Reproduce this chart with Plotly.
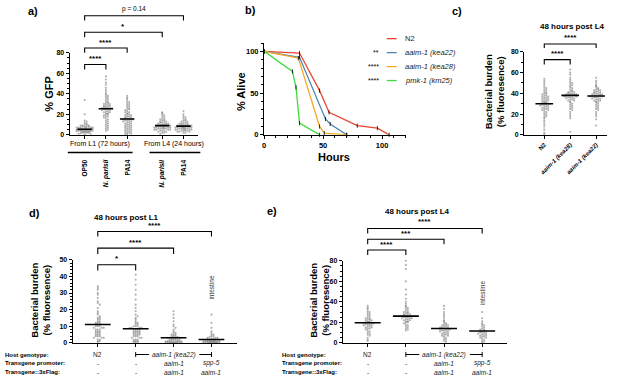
import plotly.graph_objects as go

FONT = "Liberation Sans, Arial, sans-serif"
W, H = 617, 381

# ---------------- DATA ----------------
# a) % GFP
a_categories = ["OP50", "<i>N. parisii</i>", "PA14", "<i>N. parisii</i>", "PA14"]
a_op50_l1 = [34, 20, 14, 13, 12, 11, 10, 10, 9, 9, 9, 8, 8, 8, 8, 7, 7, 7, 7, 7, 7, 6, 6, 6, 6, 6, 6, 6, 6,
             5, 5, 5, 5, 5, 5, 5, 5, 5, 4.5, 4, 4, 4, 4, 4, 4, 4, 3.5, 3, 3, 3, 3, 3, 2.5, 2, 2, 2, 1.5, 1, 1, 0.5]
a_npar_l1 = [57, 54, 51, 49, 46, 44, 42, 40, 39, 38, 37, 36, 35, 34, 33, 32, 31, 31, 30, 30, 29, 29, 28, 28,
             27, 27, 27, 26, 26, 26, 25, 25, 25, 24, 24, 23, 23, 22, 22, 21, 21, 20, 20, 19, 18, 18, 17, 16,
             15, 14, 13, 12, 11, 10, 9, 8, 7, 6, 5, 4]
a_pa14_l1 = [38, 36, 35, 33, 32, 31, 30, 29, 28, 27, 26, 25, 25, 24, 23, 22, 22, 21, 20, 20, 19, 19, 18, 18,
             17, 17, 16, 16, 16, 15, 15, 15, 14, 14, 14, 13, 13, 12, 12, 11, 11, 10, 10, 9, 9, 8, 8, 7, 7, 6,
             6, 5, 5, 4, 4, 3, 3, 2, 2, 1, 1, 0.5]
a_npar_l4 = [22, 21, 20, 19, 18, 17, 16, 15, 15, 14, 14, 13, 13, 12, 12, 12, 11, 11, 11, 10, 10, 10, 10, 9, 9,
             9, 9, 8, 8, 8, 8, 8, 7, 7, 7, 7, 7, 6, 6, 6, 6, 6, 5, 5, 5, 5, 4, 4, 4, 3, 3, 2, 2, 1]
a_pa14_l4 = [23, 20, 18, 17, 16, 15, 14, 14, 13, 13, 12, 12, 11, 11, 11, 10, 10, 10, 10, 9, 9, 9, 9, 8, 8, 8,
             8, 8, 7, 7, 7, 7, 7, 7, 6, 6, 6, 6, 6, 5, 5, 5, 5, 5, 4, 4, 4, 4, 3, 3, 3, 2, 2]
a_means = [5.5, 25.5, 15.5, 9, 8.5]

# b) survival
b_names = ["N2", "<i>aaim-1 (kea22)</i>", "<i>aaim-1 (kea28)</i>", "<i>pmk-1 (km25)</i>"]
b_stars = ["", "**", "****", "****"]
b_hours = [[0, 30, 47, 55, 79, 96, 106],
           [0, 30, 52, 56, 70],
           [0, 29, 47, 51, 70],
           [0, 24, 27, 30, 47]]
b_alive = [[100, 98, 53, 27, 11, 8, 0],
           [100, 93, 19, 13, 0],
           [100, 92, 10, 2, 0],
           [100, 76, 57, 14, 0]]
b_colors = ["#e8462f", "#4e86b3", "#f7a724", "#3cdc3c"]

# c) 48 h post L4
c_categories = ["N2", "<i>aaim-1 (kea28)</i>", "<i>aaim-1 (kea22)</i>"]
c_n2 = [54, 52, 50, 48, 46, 45, 44, 43, 42, 41, 40, 40, 39, 38, 38, 37, 37, 36, 36, 35, 35, 34, 34, 33, 33,
        32, 32, 31, 31, 31, 30, 30, 30, 29, 29, 29, 28, 28, 27, 27, 26, 26, 25, 25, 24, 24, 23, 22, 21, 20,
        19, 18, 17, 16, 14, 12, 10, 8, 5, 2, 0.5]
c_kea28 = [63, 60, 58, 55, 53, 51, 50, 49, 48, 47, 46, 45, 44, 43, 42, 42, 41, 41, 40, 40, 40, 39, 39, 39,
           38, 38, 38, 38, 37, 37, 37, 36, 36, 36, 35, 35, 34, 34, 33, 33, 32, 31, 30, 29, 28, 27, 26, 25,
           24, 22, 20, 18, 16, 3]
c_kea22 = [55, 52, 50, 48, 47, 46, 45, 44, 44, 43, 43, 42, 42, 41, 41, 40, 40, 40, 39, 39, 39, 38, 38, 38,
           38, 37, 37, 37, 36, 36, 36, 35, 35, 34, 34, 33, 33, 32, 32, 31, 30, 29, 28, 27, 26, 25, 24, 22,
           20, 18, 15, 9]
c_means = [30, 38, 37.5]

# d) 48 h post L1
d_n2 = [34, 33, 32, 30, 29, 27, 25, 24, 23, 21, 19, 18, 17, 16, 15, 15, 14, 14, 13, 13, 12, 12, 12, 11, 11,
        11, 10, 10, 10, 9, 9, 9, 8, 8, 8, 7, 7, 7, 6, 6, 6, 5, 5, 5, 4, 4, 4, 3, 3, 3, 2, 2, 1, 1, 0.5]
d_mut = [41, 38, 35, 32, 29, 26, 23, 21, 19, 17, 16, 15, 14, 13, 12, 12, 11, 11, 10, 10, 10, 9, 9, 9, 9, 8,
         8, 8, 8, 7, 7, 7, 7, 6, 6, 6, 6, 5, 5, 5, 5, 4, 4, 4, 3, 3, 3, 2, 2, 2, 1, 1, 1, 0.5, 0.5, 0.3]
d_resc = [19, 17, 15, 13, 11, 10, 9, 8, 7, 6, 6, 5, 5, 5, 4, 4, 4, 3.5, 3, 3, 3, 3, 2.5, 2.5, 2, 2, 2, 2,
          1.5, 1.5, 1.5, 1, 1, 1, 1, 0.8, 0.8, 0.5, 0.5, 0.5, 0.5, 0.3, 0.3, 0.3, 0.2, 0.2, 0.1, 0.1, 0.1, 0.1]
d_int = [17, 12, 9, 7, 6, 5, 5, 4, 4, 3.5, 3, 3, 3, 2.5, 2.5, 2, 2, 2, 2, 1.5, 1.5, 1.5, 1.5, 1, 1, 1, 1, 1,
         0.8, 0.8, 0.8, 0.5, 0.5, 0.5, 0.5, 0.5, 0.3, 0.3, 0.3, 0.3, 0.2, 0.2, 0.1, 0.1, 0.1]
d_means = [11, 8.5, 3, 2]

# e) 48 h post L4
e_n2 = [36, 34, 33, 31, 30, 29, 28, 27, 26, 25, 24, 24, 23, 23, 22, 22, 21, 21, 20, 20, 20, 19, 19, 19, 18,
        18, 18, 17, 17, 16, 16, 15, 15, 14, 14, 13, 12, 11, 10, 9, 8, 7, 5, 3, 2]
e_mut = [80, 76, 72, 60, 52, 47, 43, 40, 38, 36, 35, 34, 33, 32, 31, 30, 30, 29, 29, 28, 28, 27, 27, 27, 26,
         26, 26, 25, 25, 25, 24, 24, 24, 23, 23, 22, 22, 21, 21, 20, 20, 19, 18, 17, 16, 15, 14, 13, 12]
e_resc = [36, 33, 30, 28, 26, 24, 22, 21, 20, 19, 18, 18, 17, 17, 16, 16, 15, 15, 15, 14, 14, 14, 13, 13, 13,
          12, 12, 12, 11, 11, 10, 10, 9, 9, 8, 8, 7, 7, 6, 5, 4, 3, 2, 1]
e_int = [30, 24, 21, 19, 18, 17, 16, 15, 14, 13, 13, 12, 12, 11, 11, 10, 10, 10, 9, 9, 8, 8, 7, 7, 6, 6, 5,
         5, 4, 3, 2, 1, 0.5]
e_means = [19.5, 26, 14, 11.5]

# genotype table (d, e)
row_labels = ["Host genotype:", "Transgene promoter:", "Transgene::3xFlag:"]
host_row = ["N2", "", "", ""]
promoter_row = ["-", "-", "<i>aaim-1</i>", "<i>spp-5</i>"]
flag_row = ["-", "-", "<i>aaim-1</i>", "<i>aaim-1</i>"]
mutant_label = "<i>aaim-1 (kea22)</i>"

# ---------------- HELPERS ----------------
def fx(p):
    return p / W


def fy(p):
    return 1 - p / H


def swarm_x(vals, center, ypx, xpx, step=2.0, half=8.0):
    slots = [0]
    k = 1
    while k * step <= half:
        slots += [k, -k]
        k += 1
    k = 0.5
    while k * step <= half:
        slots += [k, -k]
        k += 1
    counts = {}
    xs = []
    for v in vals:
        b = int(round(v * ypx / 2.0))
        c = counts.get(b, 0)
        counts[b] = c + 1
        xs.append(center + slots[c % len(slots)] * step / xpx)
    return xs


fig = go.Figure()
annotations = []
shapes = []

axis_common = dict(showline=True, linecolor="black", linewidth=1.3, ticks="outside", tickcolor="black",
                   tickwidth=1, ticklen=3, showgrid=False, zeroline=False, fixedrange=True,
                   tickfont=dict(size=7, family=FONT, color="black", weight="bold"))

panels = {
    "a": dict(xa="x", ya="y", xd=(68, 197), yd=(50, 134), xr=(-0.70, 5.35), yr=(0, 80), xpu=21.3),
    "b": dict(xa="x2", ya="y2", xd=(263, 405), yd=(40, 134), xr=(0, 120), yr=(0, 110), xpu=None),
    "c": dict(xa="x3", ya="y3", xd=(524, 607), yd=(49, 134), xr=(-0.77, 2.42), yr=(0, 80), xpu=26),
    "d": dict(xa="x4", ya="y4", xd=(71, 236), yd=(262, 347), xr=(-0.66, 3.68), yr=(0, 50), xpu=38),
    "e": dict(xa="x5", ya="y5", xd=(342, 507), yd=(263, 347), xr=(-0.65, 3.66), yr=(0, 80), xpu=38.3),
}


def add_dots(panel, groups, positions, means):
    p = panels[panel]
    ypx = (p["yd"][1] - p["yd"][0]) / (p["yr"][1] - p["yr"][0])
    for vals, pos in zip(groups, positions):
        fig.add_trace(go.Scatter(
            x=swarm_x(vals, pos, ypx, p["xpu"]), y=vals, mode="markers",
            marker=dict(size=2.1, color="rgba(120,120,120,0.6)", line=dict(width=0)),
            xaxis=p["xa"], yaxis=p["ya"], hoverinfo="skip", cliponaxis=False))
    hw = 0.34
    mx, my = [], []
    for pos, m in zip(positions, means):
        mx += [pos - hw, pos + hw, None]
        my += [m, m, None]
    fig.add_trace(go.Scatter(x=mx, y=my, mode="lines", line=dict(color="black", width=1.6),
                             xaxis=p["xa"], yaxis=p["ya"], hoverinfo="skip"))


def bracket(panel, i, j, ybar, ydrop, label, ylab, size=8, bold=True):
    xr = panels[panel]["xa"]
    shapes.append(dict(type="path", xref=xr, yref="paper",
                       path=f"M {i},{fy(ydrop)} L {i},{fy(ybar)} L {j},{fy(ybar)} L {j},{fy(ydrop)}",
                       line=dict(color="black", width=1.1)))
    annotations.append(dict(x=(i + j) / 2, y=fy(ylab), xref=xr, yref="paper", text=label, showarrow=False,
                            xanchor="center", yanchor="middle",
                            font=dict(size=size, family=FONT, color="black",
                                      weight="bold" if bold else "normal")))


def text(x, y, s, size=7, bold=False, angle=0, xanchor="center", yanchor="middle", xref="paper", color="black"):
    annotations.append(dict(x=x if xref != "paper" else fx(x), y=fy(y), xref=xref, yref="paper", text=s,
                            showarrow=False, textangle=angle, xanchor=xanchor, yanchor=yanchor,
                            font=dict(size=size, family=FONT, color=color, weight="bold" if bold else "normal")))


# ---------------- AXES ----------------
layout_axes = {}
for key, p in panels.items():
    xname = "xaxis" if p["xa"] == "x" else "xaxis" + p["xa"][1:]
    yname = "yaxis" if p["ya"] == "y" else "yaxis" + p["ya"][1:]
    layout_axes[xname] = dict(axis_common, domain=[fx(p["xd"][0]), fx(p["xd"][1])], range=list(p["xr"]),
                              anchor=p["ya"])
    layout_axes[yname] = dict(axis_common, domain=[fy(p["yd"][1]), fy(p["yd"][0])], range=list(p["yr"]),
                              anchor=p["xa"])

minor_style = dict(ticklen=2, ticks="outside", tickcolor="black")
a_pos = [0, 1, 2, 3.65, 4.65]
layout_axes["xaxis"].update(tickvals=a_pos, showticklabels=False)
layout_axes["yaxis"].update(tickvals=[0, 20, 40, 60, 80], minor=dict(minor_style, dtick=5))
layout_axes["xaxis2"].update(tickvals=[0, 50, 100], minor=dict(minor_style, dtick=10),
                             tickfont=dict(size=7.5, family=FONT, color="black", weight="bold"))
layout_axes["yaxis2"].update(tickvals=[0, 50, 100], minor=dict(minor_style, dtick=10),
                             tickfont=dict(size=7.5, family=FONT, color="black", weight="bold"))
c_pos = [0, 1, 2]
layout_axes["xaxis3"].update(tickvals=c_pos, ticktext=c_categories, tickangle=-45,
                             tickfont=dict(size=6, family=FONT, color="black", weight="bold"))
layout_axes["yaxis3"].update(tickvals=[0, 20, 40, 60, 80], minor=dict(minor_style, dtick=10))
de_pos = [0, 1, 2, 3]
layout_axes["xaxis4"].update(tickvals=de_pos, showticklabels=False)
layout_axes["yaxis4"].update(tickvals=[0, 10, 20, 30, 40, 50], minor=dict(minor_style, dtick=2))
layout_axes["xaxis5"].update(tickvals=de_pos, showticklabels=False)
layout_axes["yaxis5"].update(tickvals=[0, 20, 40, 60, 80], minor=dict(minor_style, dtick=5))

# ---------------- TRACES ----------------
add_dots("a", [a_op50_l1, a_npar_l1, a_pa14_l1, a_npar_l4, a_pa14_l4], a_pos, a_means)
add_dots("c", [c_n2, c_kea28, c_kea22], c_pos, c_means)
add_dots("d", [d_n2, d_mut, d_resc, d_int], de_pos, d_means)
add_dots("e", [e_n2, e_mut, e_resc, e_int], de_pos, e_means)

for hrs, alive, col in zip(b_hours, b_alive, b_colors):
    fig.add_trace(go.Scatter(x=hrs, y=alive, mode="lines+markers",
                             line=dict(color=col, width=1.3),
                             marker=dict(symbol="line-ns", size=3, line=dict(color="black", width=0.8)),
                             xaxis="x2", yaxis="y2", hoverinfo="skip", cliponaxis=False))

# ---------------- ANNOTATIONS ----------------
for s, x, y in [("a)", 24, 7), ("b)", 242, 6), ("c)", 449, 7), ("d)", 25, 214), ("e)", 264, 212)]:
    text(x, y, s, size=11, bold=True, xanchor="left")

bracket("a", 0, 4.65, 12, 17, "p = 0.14", 5, size=6.5, bold=False)
bracket("a", 0, 3.65, 29, 34, "*", 23)
bracket("a", 0, 2, 45, 50, "****", 39)
bracket("a", 0, 1, 62, 67, "****", 56)
text(47, 92, "% GFP", size=11, bold=True, angle=-90)
text(98, 143, "From L1 (72 hours)", size=7)
text(173, 143, "From L4 (24 hours)", size=7)
shapes.append(dict(type="line", xref="paper", yref="paper", x0=fx(66), x1=fx(131), y0=fy(152), y1=fy(152),
                   line=dict(color="black", width=1.5)))
shapes.append(dict(type="line", xref="paper", yref="paper", x0=fx(148), x1=fx(199), y0=fy(152), y1=fy(152),
                   line=dict(color="black", width=1.5)))
for pos, lab in zip(a_pos, a_categories):
    text(pos, 157, lab, size=6.5, bold=True, angle=-90, xanchor="center", yanchor="top", xref="x")

text(240, 90, "% Alive", size=11, bold=True, angle=-90)
text(333, 157, "Hours", size=11, bold=True)
for i, (nm, st, col) in enumerate(zip(b_names, b_stars, b_colors)):
    yy = 35.5 + i * 14.3
    shapes.append(dict(type="line", xref="paper", yref="paper", x0=fx(386), x1=fx(396), y0=fy(yy), y1=fy(yy),
                       line=dict(color=col, width=1.3)))
    text(402, yy, nm, size=7.5, xanchor="left", color="#222")
    if st:
        text(380, yy, st, size=7, xanchor="right")

text(572, 23, "48 hours post L4", size=8, bold=True)
bracket("c", 0, 2, 41, 45, "****", 34)
bracket("c", 0, 1, 57, 62, "****", 51)
text(494, 90, "Bacterial burden<br>(% fluoresence)", size=9.5, bold=True, angle=-90)

text(125, 219, "48 hours post L1", size=8, bold=True)
bracket("d", 0, 3, 233, 238, "****", 227)
bracket("d", 0, 2, 250, 256, "****", 244)
bracket("d", 0, 1, 267, 273, "*", 261)
text(39, 303, "Bacterial burden<br>(% fluoresence)", size=9.5, bold=True, angle=-90)
text(3, 290, "intestine", size=6.5, angle=-90, xref="x4", color="#333")

text(417, 213, "48 hours post L4", size=8, bold=True)
bracket("e", 0, 3, 230, 235, "****", 223)
bracket("e", 0, 2, 241, 246, "***", 235)
bracket("e", 0, 1, 252, 257, "****", 246)
text(319, 303, "Bacterial burden<br>(% fluoresence)", size=9.5, bold=True, angle=-90)
text(3, 296, "intestine", size=6.5, angle=-90, xref="x5", color="#333")

for xref, left in [("x4", 1), ("x5", 279)]:
    rows_y = [359, 368, 377]
    for lab, yy in zip(row_labels, rows_y):
        text(left, yy, lab, size=6, bold=True, xanchor="left")
    for row, yy in zip([host_row, promoter_row, flag_row], rows_y):
        for pos, s in zip(de_pos, row):
            if s:
                text(pos, yy, s, size=6.5, xref=xref, color="#222")
    text(2, 359, mutant_label, size=6.5, xref=xref, color="#222")
    y0 = rows_y[0]
    for xa, xb in [(1, 1.35), (2.68, 3)]:
        shapes.append(dict(type="line", xref=xref, yref="paper", x0=xa, x1=xb, y0=fy(y0), y1=fy(y0),
                           line=dict(color="black", width=1)))
    for xt in [1, 3]:
        shapes.append(dict(type="line", xref=xref, yref="paper", x0=xt, x1=xt, y0=fy(y0 - 2.5), y1=fy(y0 + 2.5),
                           line=dict(color="black", width=1)))

fig.update_layout(width=W, height=H, margin=dict(l=0, r=0, t=0, b=0), paper_bgcolor="white",
                  plot_bgcolor="white", showlegend=False, annotations=annotations, shapes=shapes,
                  font=dict(family=FONT, color="black"), **layout_axes)

fig.write_html("out.html", config={"displayModeBar": False},
               post_script="document.body.style.margin='0';")
